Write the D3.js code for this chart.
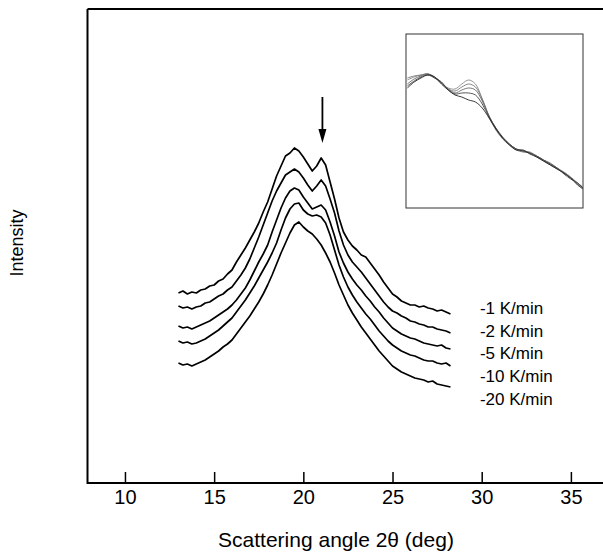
<!DOCTYPE html>
<html>
<head>
<meta charset="utf-8">
<script src="https://cdn.jsdelivr.net/npm/d3@7"></script>
<style>
  body { margin: 0; background: #fff; }
  text { font-family: "Liberation Sans", Arial, sans-serif; fill: #000; }
</style>
</head>
<body>
<svg id="chart" width="603" height="556"></svg>
<script>
// scattering angle grid of the main traces (deg)
const angle = [13.00, 13.25, 13.50, 13.75, 14.00, 14.25, 14.50, 14.75, 15.00, 15.25, 15.50, 15.75,
    16.00, 16.25, 16.50, 16.75, 17.00, 17.25, 17.50, 17.75, 18.00, 18.25, 18.50, 18.75,
    19.00, 19.25, 19.50, 19.75, 20.00, 20.25, 20.50, 20.75, 21.00, 21.25, 21.50, 21.75,
    22.00, 22.25, 22.50, 22.75, 23.00, 23.25, 23.50, 23.75, 24.00, 24.25, 24.50, 24.75,
    25.00, 25.25, 25.50, 25.75, 26.00, 26.25, 26.50, 26.75, 27.00, 27.25, 27.50, 27.75,
    28.00, 28.25];

// intensity (arbitrary units, shifted traces) for each cooling rate
const rate1 = [207, 209, 206, 208, 207, 210, 211, 214, 215, 219, 221, 226, 230, 238, 245, 252,
    260, 268, 277, 288, 298, 311, 324, 334, 344, 347, 352, 349, 343, 336, 329, 334, 342, 335,
    318, 301, 282, 268, 260, 254, 250, 245, 243, 237, 231, 225, 218, 212, 206, 203, 199, 197,
    195, 195, 193, 194, 192, 191, 189, 190, 188, 186];
const rate2 = [194, 192, 193, 191, 193, 194, 197, 198, 201, 204, 206, 210, 213, 219, 225, 232,
    241, 252, 263, 275, 287, 299, 309, 317, 325, 328, 331, 328, 322, 315, 309, 314, 320, 314,
    301, 287, 269, 255, 245, 238, 233, 228, 222, 216, 210, 204, 198, 193, 189, 187, 184, 182,
    179, 178, 176, 175, 173, 173, 171, 170, 169, 167];
const rate5 = [174, 172, 173, 171, 173, 175, 177, 179, 182, 185, 188, 191, 195, 200, 206, 212,
    220, 229, 238, 246, 255, 268, 280, 292, 302, 309, 312, 310, 303, 297, 291, 293, 295, 290,
    278, 264, 248, 237, 228, 221, 215, 210, 204, 199, 193, 188, 182, 177, 172, 169, 166, 164,
    162, 161, 159, 157, 156, 155, 154, 155, 152, 151];
const rate10 = [159, 157, 158, 156, 157, 159, 161, 164, 167, 170, 174, 178, 182, 188, 194, 200,
    207, 214, 222, 230, 238, 247, 257, 270, 282, 291, 296, 297, 290, 286, 284, 285, 283, 277,
    265, 250, 235, 223, 213, 205, 198, 192, 186, 181, 175, 169, 164, 159, 155, 152, 149, 147,
    145, 144, 142, 140, 139, 139, 137, 136, 137, 134];
const rate20 = [137, 135, 136, 134, 136, 138, 140, 143, 146, 149, 153, 156, 160, 166, 172, 178,
    184, 191, 198, 206, 215, 225, 236, 247, 257, 267, 275, 278, 273, 269, 266, 261, 255, 247,
    238, 227, 215, 205, 195, 187, 180, 173, 167, 161, 155, 149, 144, 139, 134, 131, 128, 126,
    124, 122, 121, 120, 118, 119, 116, 115, 114, 113];

const rateLabels = ["-1 K/min", "-2 K/min", "-5 K/min", "-10 K/min", "-20 K/min"];
const labelAngle = 29.9;
const labelLevel = [192, 169, 147, 124, 101];

const xTicks = [10, 15, 20, 25, 30, 35];

// arrow marking the second reflection
const arrowAngle = 21.07;
const arrowTop = 403;
const arrowTip = 357;

// inset: normalised profiles around the peak
const insetAngle = [18.75, 19.00, 19.25, 19.50, 19.75, 20.00, 20.25, 20.50, 20.75, 21.00, 21.25,
    21.50, 21.75, 22.00, 22.25, 22.50, 22.75, 23.00, 23.25, 23.50, 23.75, 24.00, 24.25, 24.50,
    24.75, 25.00, 25.20];
const inset1 = [170, 173, 175, 176, 172, 167, 162, 161, 166, 170, 166, 151, 133, 120, 111, 105,
    101, 99, 97, 94, 90, 86, 82, 77, 72, 67, 63];
const inset2 = [172, 174, 175, 176, 173, 168, 161, 159, 163, 166, 163, 151, 134, 121, 112, 106,
    101, 99, 98, 94, 90, 87, 82, 78, 73, 67, 62];
const inset5 = [166, 171, 174, 176, 173, 167, 161, 157, 160, 162, 160, 149, 134, 122, 112, 105,
    100, 98, 97, 93, 89, 85, 81, 77, 72, 66, 62];
const inset10 = [164, 169, 173, 175, 172, 168, 160, 156, 157, 157, 155, 146, 133, 122, 113, 106,
    101, 99, 97, 94, 90, 86, 82, 76, 71, 67, 62];
const inset20 = [162, 168, 172, 175, 173, 166, 160, 155, 153, 150, 148, 142, 132, 121, 112, 105,
    100, 100, 96, 93, 89, 85, 81, 77, 72, 65, 61];

const svg = d3.select("#chart");
const width = 603;

const x = d3.scaleLinear().domain([7.9, 36.8]).range([87.5, width]);
const y = d3.scaleLinear().domain([17, 491]).range([483, 9]);

// frame (right side runs off the page)
svg.append("path")
    .attr("d", `M${x.range()[0]},${y.range()[1]}H${width + 5}M${x.range()[0]},${y.range()[1]}V${y.range()[0]}H${width + 5}`)
    .attr("fill", "none")
    .attr("stroke", "#000")
    .attr("stroke-width", 2);

const xAxis = svg.append("g")
    .attr("transform", `translate(0,${y.range()[0]})`)
    .call(d3.axisBottom(x).tickValues(xTicks).tickSizeInner(-11).tickSizeOuter(0).tickPadding(7));
xAxis.select(".domain").remove();
xAxis.selectAll(".tick line").attr("stroke-width", 1.5);
xAxis.selectAll(".tick text")
    .style("font-family", "Liberation Sans, Arial, sans-serif")
    .style("font-size", "20px");

svg.append("text")
    .attr("x", 336)
    .attr("y", 547)
    .attr("text-anchor", "middle")
    .style("font-size", "21px")
    .text("Scattering angle 2θ (deg)");

svg.append("text")
    .attr("transform", "translate(23,243) rotate(-90)")
    .attr("text-anchor", "middle")
    .style("font-size", "18px")
    .text("Intensity");

const series = [rate1, rate2, rate5, rate10, rate20];
const line = d3.line()
    .x((d, i) => x(angle[i]))
    .y(d => y(d));

svg.append("g")
    .selectAll("path")
    .data(series)
    .join("path")
    .attr("d", line)
    .attr("fill", "none")
    .attr("stroke", "#000")
    .attr("stroke-width", 1.7)
    .attr("stroke-linejoin", "round");

svg.append("g")
    .selectAll("text")
    .data(rateLabels)
    .join("text")
    .attr("x", x(labelAngle))
    .attr("y", (d, i) => y(labelLevel[i]))
    .attr("dy", "0.35em")
    .style("font-size", "17px")
    .text(d => d);

// arrow
svg.append("line")
    .attr("x1", x(arrowAngle)).attr("x2", x(arrowAngle))
    .attr("y1", y(arrowTop)).attr("y2", y(arrowTip) - 12)
    .attr("stroke", "#000")
    .attr("stroke-width", 1.8);
svg.append("path")
    .attr("d", `M${x(arrowAngle) - 4},${y(arrowTip) - 14}L${x(arrowAngle) + 4},${y(arrowTip) - 14}L${x(arrowAngle)},${y(arrowTip)}Z`)
    .attr("fill", "#000");

// inset
const ix = d3.scaleLinear().domain([18.7, 25.2]).range([406, 583]);
const iy = d3.scaleLinear().domain([42, 216]).range([208, 34]);

svg.append("rect")
    .attr("x", 406).attr("y", 34)
    .attr("width", 177).attr("height", 174)
    .attr("fill", "#fff")
    .attr("stroke", "#333")
    .attr("stroke-width", 1);

const insetLine = d3.line()
    .x((d, i) => ix(insetAngle[i]))
    .y(d => iy(d))
    .curve(d3.curveCatmullRom);

const insetColors = ["#888", "#777", "#666", "#444", "#222"];
svg.append("g")
    .selectAll("path")
    .data([inset1, inset2, inset5, inset10, inset20])
    .join("path")
    .attr("d", insetLine)
    .attr("fill", "none")
    .attr("stroke", (d, i) => insetColors[i])
    .attr("stroke-width", 0.9);
</script>
</body>
</html>
